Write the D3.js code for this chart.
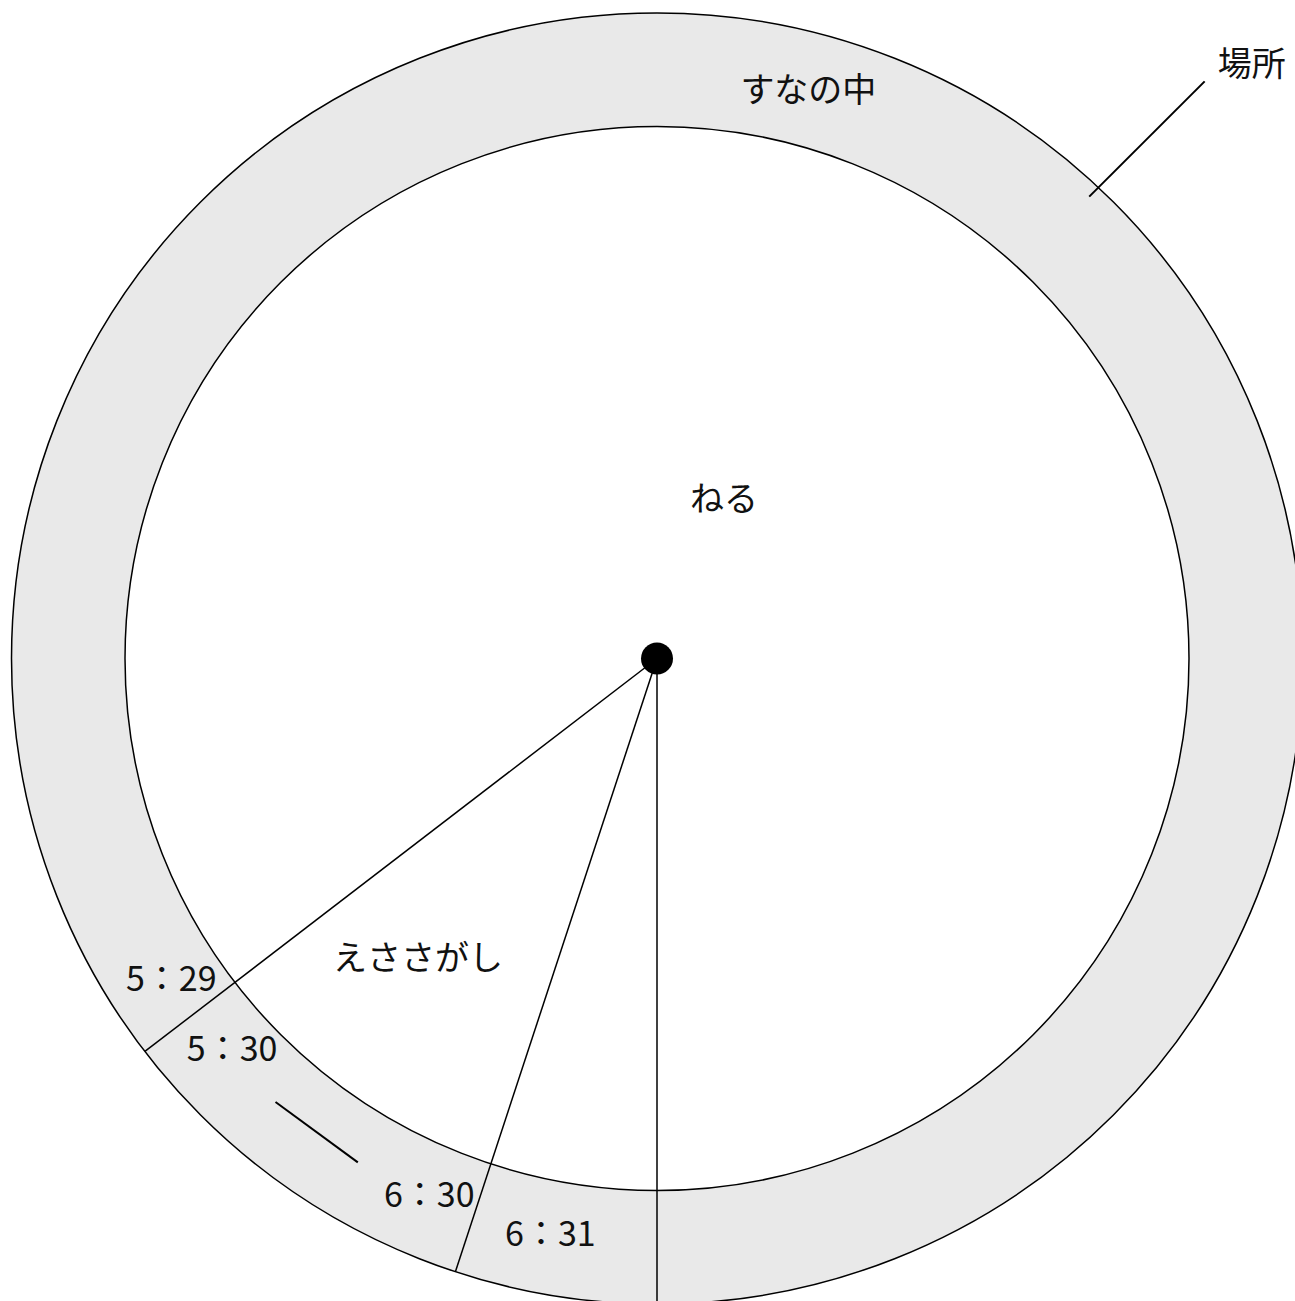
<!DOCTYPE html>
<html>
<head>
<meta charset="utf-8">
<script src="https://cdn.jsdelivr.net/npm/d3@7"></script>
<style>
  html, body { margin: 0; padding: 0; background: #fff; }
  svg { display: block; }
  text { font-family: "Noto Sans CJK JP", "Noto Sans", sans-serif; fill: #111; }
</style>
</head>
<body>
<svg id="chart" width="1295" height="1301"></svg>
<script>
// ---- data (angles in degrees, clockwise from 12 o'clock) ----
const boundaryAngles = [180, 198.2, 232.5];          // radial divider lines
const activityNames  = ["ねる", "えささがし"];
const activityAngles = [22.65, 218.6];
const activityRadii  = [174, 383];
const placeName      = "すなの中";
const placeAngle     = 14.9;
const timeLabels     = ["5：29", "5：30", "6：30", "6：31"];
const timeAngles     = [236.6, 227.4, 203.0, 190.5];
const timeRadii      = [581.9, 577.2, 583, 584.9];
const rangeDashAngles = [220.7, 210.7];
const ringTitle      = "場所";
const ringTitleAngle = 45.0;
const leaderAngles   = [43.1, 43.5];
const leaderRadii    = [632.6, 795.6];

// ---- layout ----
const cx = 657, cy = 658.5;
const innerR = 532, outerR = 645.5;
const rad = d3.scaleLinear().domain([0, 360]).range([0, 2 * Math.PI]);
const P = (deg, r) => d3.pointRadial(rad(deg), r);

const svg = d3.select("#chart");
const g = svg.append("g").attr("transform", `translate(${cx},${cy})`);

// ring
const ringArc = d3.arc().innerRadius(innerR).outerRadius(outerR).startAngle(0).endAngle(2 * Math.PI);
g.append("path").attr("d", ringArc()).attr("fill", "#e9e9e9");
g.append("circle").attr("r", outerR).attr("fill", "none").attr("stroke", "#000").attr("stroke-width", 1.5);
g.append("circle").attr("r", innerR).attr("fill", "#fff").attr("stroke", "#000").attr("stroke-width", 1.5);

// radial divider lines
g.selectAll("line.div").data(boundaryAngles).join("line")
  .attr("class", "div")
  .attr("x1", 0).attr("y1", 0)
  .attr("x2", d => P(d, outerR)[0])
  .attr("y2", d => P(d, outerR)[1])
  .attr("stroke", "#000").attr("stroke-width", 1.5);

// center dot
g.append("circle").attr("r", 16).attr("fill", "#000");

// activity labels
g.selectAll("text.act").data(activityNames).join("text")
  .attr("class", "act")
  .attr("x", (d, i) => P(activityAngles[i], activityRadii[i])[0])
  .attr("y", (d, i) => P(activityAngles[i], activityRadii[i])[1])
  .attr("dy", "0.37em")
  .attr("text-anchor", "middle")
  .attr("font-size", 34)
  .text(d => d);

// place label in ring
g.append("text")
  .attr("x", P(placeAngle, (innerR + outerR) / 2)[0])
  .attr("y", P(placeAngle, (innerR + outerR) / 2)[1])
  .attr("dy", "0.37em")
  .attr("text-anchor", "middle")
  .attr("font-size", 34)
  .text(placeName);

// time labels
g.selectAll("text.time").data(timeLabels).join("text")
  .attr("class", "time")
  .attr("x", (d, i) => P(timeAngles[i], timeRadii[i])[0])
  .attr("y", (d, i) => P(timeAngles[i], timeRadii[i])[1])
  .attr("dy", "0.36em")
  .attr("text-anchor", "middle")
  .attr("font-size", 34)
  .text(d => d);

// range dash between times
g.append("line")
  .attr("x1", P(rangeDashAngles[0], 585)[0]).attr("y1", P(rangeDashAngles[0], 585)[1])
  .attr("x2", P(rangeDashAngles[1], 586)[0]).attr("y2", P(rangeDashAngles[1], 586)[1])
  .attr("stroke", "#000").attr("stroke-width", 2);

// ring title with leader line
g.append("line")
  .attr("x1", P(leaderAngles[0], leaderRadii[0])[0]).attr("y1", P(leaderAngles[0], leaderRadii[0])[1])
  .attr("x2", P(leaderAngles[1], leaderRadii[1])[0]).attr("y2", P(leaderAngles[1], leaderRadii[1])[1])
  .attr("stroke", "#000").attr("stroke-width", 2);
g.append("text")
  .attr("x", P(ringTitleAngle, 841)[0])
  .attr("y", P(ringTitleAngle, 841)[1])
  .attr("dy", "0.37em")
  .attr("text-anchor", "middle")
  .attr("font-size", 34)
  .text(ringTitle);
</script>
</body>
</html>
